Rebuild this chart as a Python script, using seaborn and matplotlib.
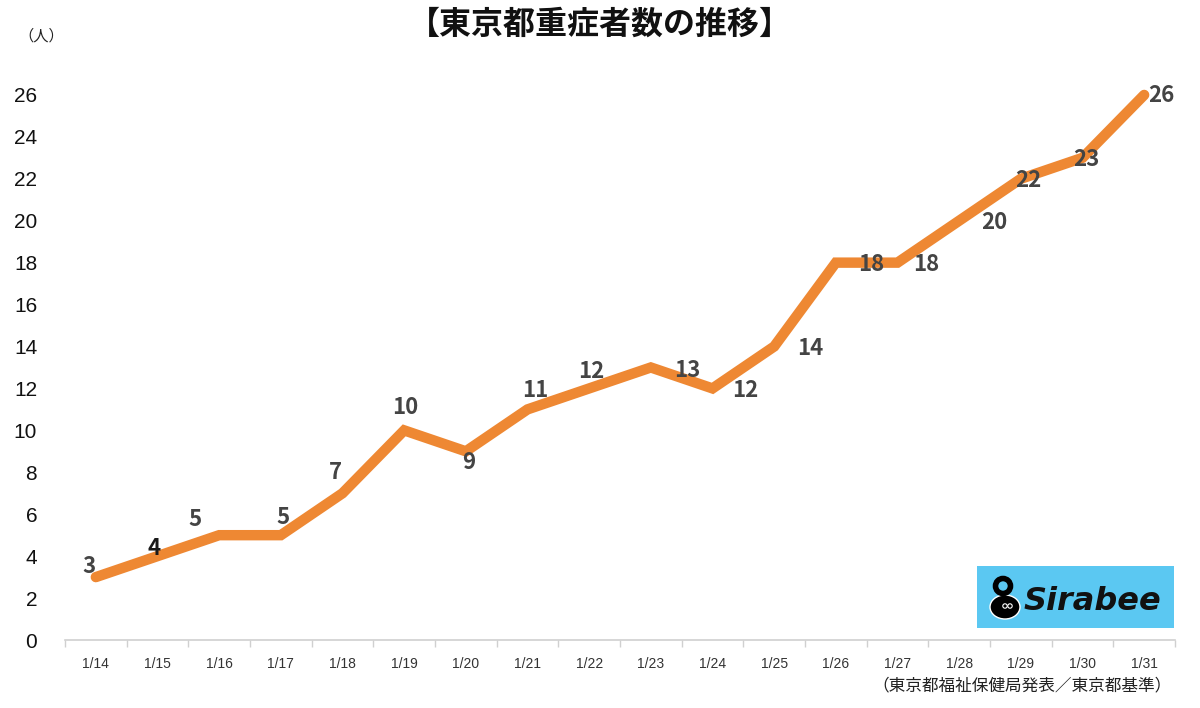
import matplotlib
matplotlib.use("Agg")
import matplotlib.pyplot as plt
import seaborn as sns
import pandas as pd
from matplotlib.patches import Rectangle, Circle, Ellipse

dates = ["1/14", "1/15", "1/16", "1/17", "1/18", "1/19", "1/20", "1/21", "1/22",
         "1/23", "1/24", "1/25", "1/26", "1/27", "1/28", "1/29", "1/30", "1/31"]
cases = [3, 4, 5, 5, 7, 10, 9, 11, 12, 13, 12, 14, 18, 18, 20, 22, 23, 26]
# label offsets (pixels) relative to each point
label_dx = [-7, -3, -24, 2, -7, 1, 3, 8, 2, 36, 33, 36, 35, 29, 35, 7, 4, 17]
label_dy = [11, 8, 16, 18, 21, 23, -11, 19, 17, -3, -2, -2, -2, -2, -2, -2, -2, -1]

title = "【東京都重症者数の推移】"
unit = "（人）"
source = "（東京都福祉保健局発表／東京都基準）"

sns.set_theme(style="white")
plt.rcParams["font.family"] = ["Liberation Sans", "Noto Sans CJK JP", "DejaVu Sans"]

df = pd.DataFrame({"x": range(len(dates)), "date": dates, "cases": cases})

fig = plt.figure(figsize=(12, 7.08), dpi=100)
ax = fig.add_axes([65 / 1200, 1 - 640 / 708, 1110 / 1200, (640 - 53) / 708])

sns.lineplot(data=df, x="x", y="cases", ax=ax, color="#EE8833", linewidth=7.5,
             solid_joinstyle="miter", solid_capstyle="round")

for i, v in enumerate(cases):
    ax.annotate(str(v), (i, v), xytext=(label_dx[i], label_dy[i]),
                textcoords="offset pixels", ha="center", va="center",
                fontsize=16, fontweight="bold", family=["Noto Sans CJK JP"],
                color="#1a1a1a" if i == 1 else "#444444")

ax.set_xlim(-0.5, len(dates) - 0.5)
ax.set_ylim(0, 28)
ax.set_yticks(range(0, 27, 2))
ax.set_xticks(range(len(dates)))
ax.set_xticklabels(dates, fontsize=10, color="#333333")
ax.set_xticks([i - 0.5 for i in range(len(dates) + 1)], minor=True)
ax.tick_params(axis="y", length=0, labelsize=15, labelcolor="#111111", pad=20)
ax.tick_params(axis="x", which="major", length=0, pad=12)
ax.tick_params(axis="x", which="minor", length=5, width=1, color="#D0D0D0", bottom=True)
ax.set_xlabel("")
ax.set_ylabel("")
for s in ["top", "right", "left"]:
    ax.spines[s].set_visible(False)
ax.spines["bottom"].set_color("#D0D0D0")
ax.spines["bottom"].set_linewidth(1.2)
ax.grid(False)

fig.text(0.5, 1 - 25 / 708, title, ha="center", va="center", fontsize=23,
         fontweight="bold", color="#111111", family=["Noto Sans CJK JP"])
fig.text(18 / 1200, 1 - 36 / 708, unit, ha="left", va="center", fontsize=11,
         color="#222222", family=["Noto Sans CJK JP"])
fig.text(1172 / 1200, 1 - 686 / 708, source, ha="right", va="center", fontsize=12,
         color="#222222", family=["Noto Sans CJK JP"])

# Sirabee logo in its own pixel-coordinate axes
lax = fig.add_axes([977 / 1200, 1 - 628 / 708, 197 / 1200, 62 / 708])
lax.set_xlim(0, 197)
lax.set_ylim(0, 62)
lax.axis("off")
lax.add_patch(Rectangle((0, 0), 197, 62, facecolor="#5BC8F2", edgecolor="none"))
lax.add_patch(Ellipse((28, 21), 30, 24, facecolor="black"))
lax.add_patch(Circle((26, 42), 7.5, facecolor="none", edgecolor="black", linewidth=4))
lax.add_patch(Circle((28, 22), 2.2, facecolor="none", edgecolor="white", linewidth=0.8))
lax.add_patch(Circle((33, 22), 2.2, facecolor="none", edgecolor="white", linewidth=0.8))
lax.text(47, 26, "Sirabee", ha="left", va="center", fontsize=23,
         fontweight="bold", fontstyle="italic", color="#111111",
         family="DejaVu Sans")

fig.savefig("out.png", dpi=100, facecolor="white")
